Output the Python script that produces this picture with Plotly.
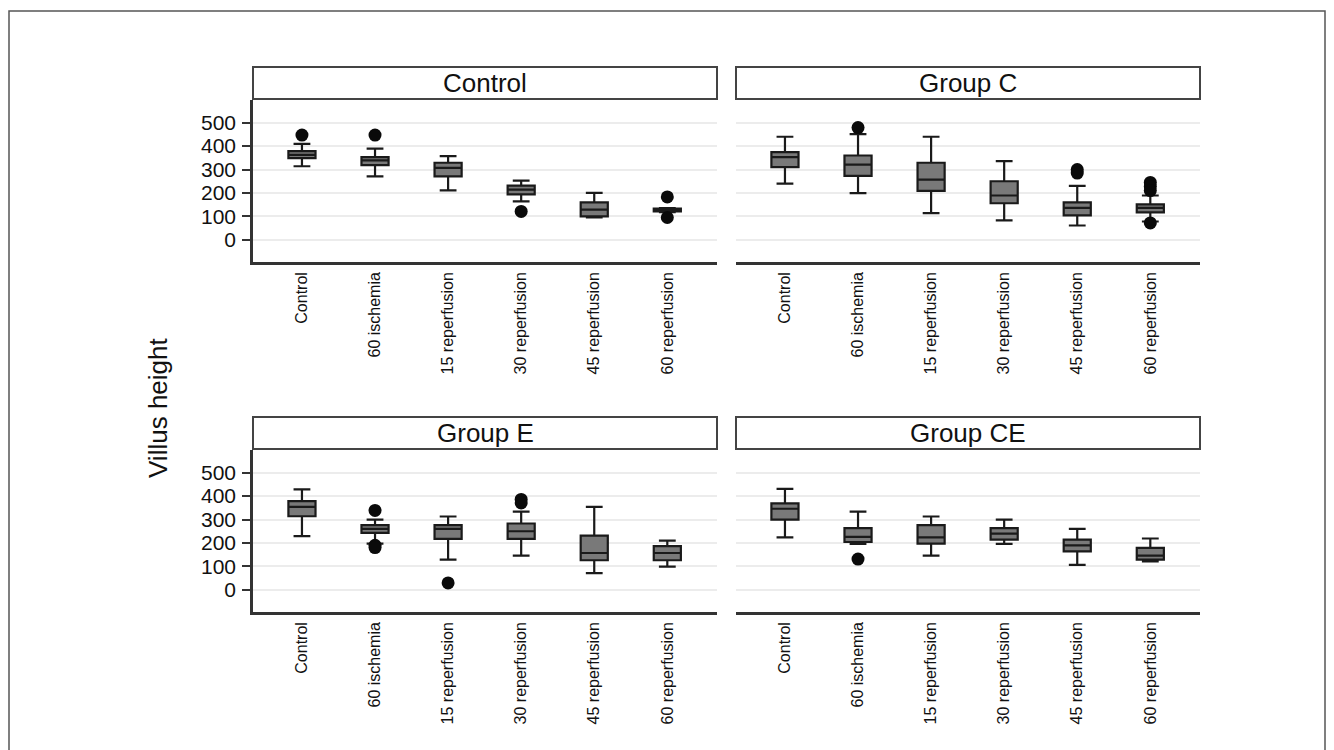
import plotly.graph_objects as go

W, H = 1334, 750

categories = ["Control", "60 ischemia", "15 reperfusion", "30 reperfusion", "45 reperfusion", "60 reperfusion"]
panels = ["Control", "Group C", "Group E", "Group CE"]

# box statistics per panel: lower whisker, q1, median, q3, upper whisker
lower = {
    "Control":  [314, 271, 211, 164, 95, 118],
    "Group C":  [240, 199, 114, 83, 61, 78],
    "Group E":  [229, 197, 129, 146, 71, 99],
    "Group CE": [224, 196, 146, 196, 106, 121],
}
q1 = {
    "Control":  [349, 319, 271, 194, 100, 121],
    "Group C":  [310, 273, 209, 156, 104, 117],
    "Group E":  [314, 243, 217, 217, 126, 126],
    "Group CE": [300, 204, 197, 214, 164, 129],
}
median = {
    "Control":  [363, 339, 307, 214, 129, 128],
    "Group C":  [353, 321, 257, 189, 136, 136],
    "Group E":  [354, 260, 260, 250, 157, 157],
    "Group CE": [346, 226, 224, 240, 190, 146],
}
q3 = {
    "Control":  [379, 353, 329, 231, 160, 133],
    "Group C":  [374, 360, 329, 250, 160, 151],
    "Group E":  [379, 276, 276, 283, 231, 186],
    "Group CE": [369, 263, 276, 263, 214, 179],
}
upper = {
    "Control":  [410, 389, 357, 253, 200, 135],
    "Group C":  [440, 451, 440, 336, 230, 189],
    "Group E":  [429, 300, 313, 334, 354, 210],
    "Group CE": [431, 334, 313, 300, 260, 219],
}
# outliers: (category index, value)
outlier_cat = {
    "Control":  [0, 1, 3, 5, 5],
    "Group C":  [1, 4, 4, 5, 5, 5, 5],
    "Group E":  [1, 1, 1, 2, 3, 3],
    "Group CE": [1],
}
outlier_val = {
    "Control":  [447, 447, 121, 183, 95],
    "Group C":  [479, 300, 285, 245, 228, 210, 72],
    "Group E":  [339, 190, 180, 29, 386, 371],
    "Group CE": [131],
}
y_ticks = [0, 100, 200, 300, 400, 500]
y_label = "Villus height"

# layout geometry (pixels in the page; the page body has an 8px margin)
OFF = 8
col_x = [(253, 717), (736, 1200)]
row_y = [(100, 262), (450, 612)]
strip_h = 32
FONT = "Liberation Sans, Arial"

def px_x(v):
    return (v - OFF) / W

def px_y(v):
    return 1 - (v - OFF) / H

fig = go.Figure()
axis_ids = ["", "2", "3", "4"]
for k, p in enumerate(panels):
    r, c = divmod(k, 2)
    aid = axis_ids[k]
    xa = "x" + aid
    ya = "y" + aid
    fig.add_trace(go.Box(
        x=categories, q1=q1[p], median=median[p], q3=q3[p],
        lowerfence=lower[p], upperfence=upper[p],
        fillcolor="#797979", line=dict(color="#1a1a1a", width=2.2),
        whiskerwidth=0.62, boxpoints=False, showlegend=False,
        xaxis=xa, yaxis=ya, hoverinfo="skip",
    ))
    fig.add_trace(go.Scatter(
        x=[categories[i] for i in outlier_cat[p]], y=outlier_val[p],
        mode="markers", marker=dict(color="#0a0a0a", size=13, line=dict(width=0)),
        showlegend=False, xaxis=xa, yaxis=ya, hoverinfo="skip",
    ))
    x0, x1 = col_x[c]
    y0, y1 = row_y[r]
    xkey = "xaxis" + aid
    ykey = "yaxis" + aid
    fig.layout[xkey] = dict(
        domain=[px_x(x0), px_x(x1)], anchor=ya,
        type="category", categoryorder="array", categoryarray=categories,
        range=[-0.67, 5.68], tickangle=-90, ticks="", showgrid=False,
        showline=True, linecolor="#333", linewidth=2.5, zeroline=False,
        tickfont=dict(family=FONT, size=16, color="#111"),
        ticklabelstandoff=1,
    )
    fig.layout[ykey] = dict(
        domain=[px_y(y1), px_y(y0)], anchor=xa,
        range=[-95, 597], tickvals=y_ticks, showgrid=True,
        gridcolor="#ececec", gridwidth=1.5, zeroline=False,
        showline=(c == 0), linecolor="#333", linewidth=2.5,
        ticks="outside" if c == 0 else "", ticklen=8, tickwidth=2, tickcolor="#333",
        showticklabels=(c == 0),
        tickfont=dict(family=FONT, size=21, color="#111"),
        ticklabelstandoff=2,
    )
    # strip
    fig.add_shape(type="rect", xref="paper", yref="paper",
                  x0=px_x(x0), x1=px_x(x1), y0=px_y(y0 - 1), y1=px_y(y0 - 1 - strip_h),
                  line=dict(color="#444", width=2), fillcolor="white", layer="above")
    fig.add_annotation(xref="paper", yref="paper", x=px_x((x0 + x1) / 2),
                       y=px_y(y0 - 1 - strip_h / 2), text=p, showarrow=False,
                       font=dict(family=FONT, size=26, color="#111"),
                       xanchor="center", yanchor="middle")

fig.add_annotation(xref="paper", yref="paper", x=px_x(158), y=px_y(408),
                   text=y_label, textangle=-90, showarrow=False,
                   font=dict(family=FONT, size=26, color="#111"),
                   xanchor="center", yanchor="middle")

# outer frame
fig.add_shape(type="rect", xref="paper", yref="paper",
              x0=px_x(9), x1=px_x(1325), y0=px_y(770), y1=px_y(11),
              line=dict(color="#555", width=1.5), fillcolor="rgba(0,0,0,0)")

fig.update_layout(
    width=W, height=H, margin=dict(l=0, r=0, t=0, b=0),
    paper_bgcolor="white", plot_bgcolor="white",
    boxgap=0.47,
)

fig.write_html("out.html")
